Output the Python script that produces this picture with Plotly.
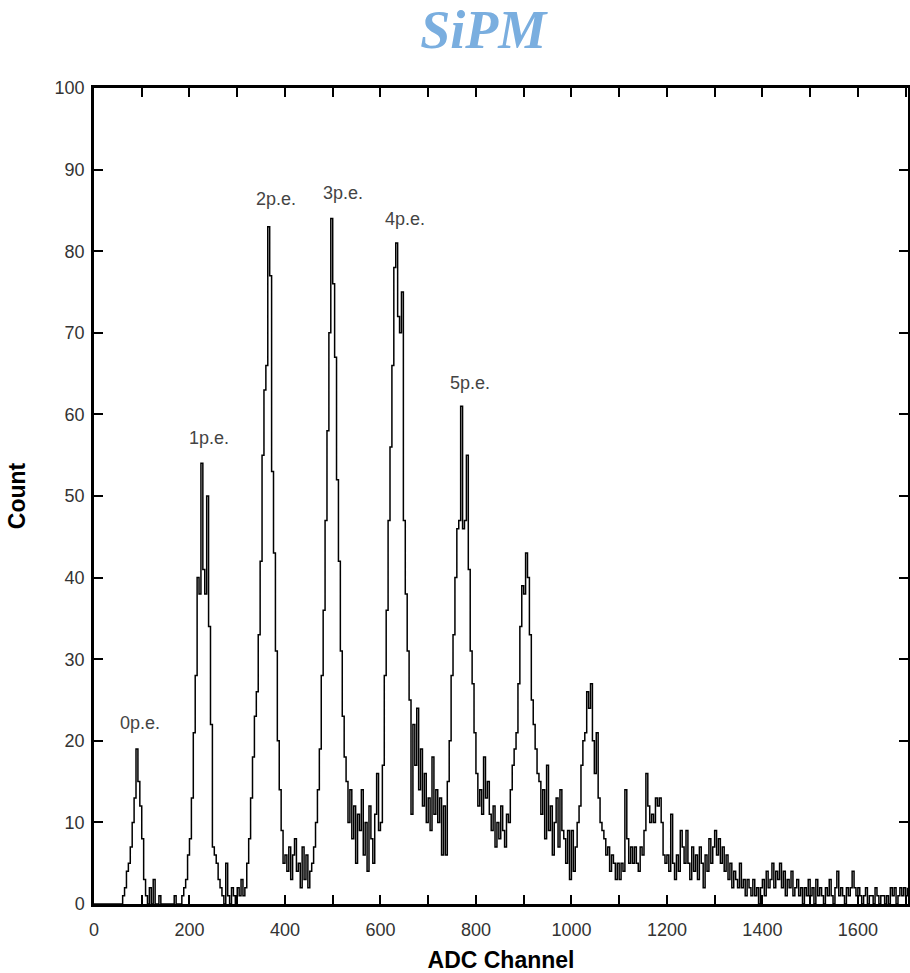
import plotly.graph_objects as go

# ---- data: counts per 4-channel bin, one row per 100 ADC channels ----
bin_width = 4
row_0000 = [0,0,0,0,0,0,0,0,0,0,0,0,0,0,0,1,2,4,5,7,10,13,19,15,12]
row_0100 = [8,3,1,0,2,0,3,0,0,1,0,0,0,0,0,0,0,1,0,0,0,1,2,3,6]
row_0200 = [8,13,21,28,40,38,54,41,38,50,34,22,7,6,5,3,2,1,0,5,1,0,2,1,0]
row_0300 = [2,1,3,1,2,5,8,13,18,23,26,33,42,55,63,66,83,77,53,43,31,20,14,9,5]
row_0400 = [6,4,7,3,6,8,4,5,2,7,3,6,2,4,5,7,10,14,19,28,36,47,58,70,84]
row_0500 = [76,67,52,42,31,23,18,15,10,14,8,12,5,11,9,14,6,10,4,12,8,5,11,16,9]
row_0600 = [10,17,28,36,47,56,66,78,81,72,70,75,47,38,31,25,11,22,17,24,14,19,12,16,10]
row_0700 = [13,9,18,11,14,10,13,6,12,6,15,20,28,33,40,46,47,61,46,47,55,41,31,27,21]
row_0800 = [16,12,14,11,18,13,15,11,9,12,7,10,8,12,9,7,11,10,14,17,19,21,27,34,39]
row_0900 = [38,43,40,33,25,22,19,16,15,11,14,8,17,9,12,6,10,13,7,14,9,8,5,9,3]
row_1000 = [9,4,7,10,12,17,20,21,26,24,27,20,16,21,13,10,9,8,6,7,4,6,5,3,5]
row_1100 = [3,5,4,14,8,5,7,5,7,5,4,7,6,9,16,12,10,11,10,13,12,13,10,6,5]
row_1200 = [6,4,11,5,3,6,4,9,7,5,9,5,3,7,4,6,3,7,5,2,6,4,8,5,7]
row_1300 = [9,6,8,5,7,4,6,3,5,2,4,3,2,5,2,3,1,3,2,1,3,1,2,0,2]
row_1400 = [3,1,4,2,3,5,2,4,3,5,2,4,1,3,2,4,1,2,3,1,2,0,2,1,3]
row_1500 = [1,2,0,3,1,2,1,0,2,1,3,1,0,2,4,1,2,1,0,2,1,2,4,2,1]
row_1600 = [2,1,0,1,2,0,1,1,0,2,1,0,1,1,0,1,0,2,1,2,0,1,2,1,2]
row_1700 = [1,2]

counts = (row_0000 + row_0100 + row_0200 + row_0300 + row_0400 + row_0500 +
          row_0600 + row_0700 + row_0800 + row_0900 + row_1000 + row_1100 +
          row_1200 + row_1300 + row_1400 + row_1500 + row_1600 + row_1700)
channels = [i * bin_width for i in range(len(counts))]

peak_labels = ["0p.e.", "1p.e.", "2p.e.", "3p.e.", "4p.e.", "5p.e."]
peak_label_x = [96, 241, 381, 521, 651, 787]
peak_label_y = [22.2, 57.1, 86.4, 87.1, 83.9, 63.8]

x_tick_vals = list(range(0, 1701, 100))
x_tick_text = [str(v) if v % 200 == 0 else "" for v in x_tick_vals]
y_tick_vals = list(range(0, 101, 10))

fig = go.Figure()
fig.add_trace(go.Scatter(
    x=channels, y=counts, mode="lines",
    line=dict(color="black", width=1.5, shape="hv"),
    showlegend=False, hoverinfo="x+y"))

for t, lx, ly in zip(peak_labels, peak_label_x, peak_label_y):
    fig.add_annotation(x=lx, y=ly, text=t, showarrow=False,
                       font=dict(family="Liberation Sans, Arial", size=18, color="#444444"),
                       xanchor="center", yanchor="middle")

fig.update_layout(
    width=910, height=973,
    margin=dict(l=94, r=2, t=88, b=69, autoexpand=False),
    paper_bgcolor="white", plot_bgcolor="white",
    title=dict(text="<b><i>SiPM</i></b>", x=0.531, xanchor="center",
               y=1 - 29 / 973, yanchor="middle", yref="container",
               font=dict(family="Liberation Serif, Times New Roman", size=54, color="#7aaedf")),
    font=dict(family="Liberation Sans, Arial", color="#333333"),
)
fig.update_xaxes(
    range=[0, 1705], tickmode="array", tickvals=x_tick_vals, ticktext=x_tick_text,
    ticks="inside", ticklen=9, tickwidth=2, tickcolor="black",
    showline=True, linewidth=2.5, linecolor="black", mirror="ticks",
    showgrid=False, zeroline=False, automargin=False, ticklabelstandoff=8,
    tickfont=dict(size=18, color="#333333"),
    title=dict(text="<b>ADC Channel</b>", font=dict(size=23, color="black"), standoff=14),
)
fig.update_yaxes(
    range=[0, 100], tickmode="array", tickvals=y_tick_vals,
    ticks="inside", ticklen=9, tickwidth=2, tickcolor="black",
    showline=True, linewidth=2.5, linecolor="black", mirror="ticks",
    showgrid=False, zeroline=False, automargin=False, ticklabelstandoff=3,
    tickfont=dict(size=18, color="#333333"),
    title=dict(text="<b>Count</b>", font=dict(size=23, color="black"), standoff=23),
)

fig.write_html("out.html", config={"displayModeBar": False},
               post_script="document.body.style.margin='0';document.body.style.overflow='hidden';")
